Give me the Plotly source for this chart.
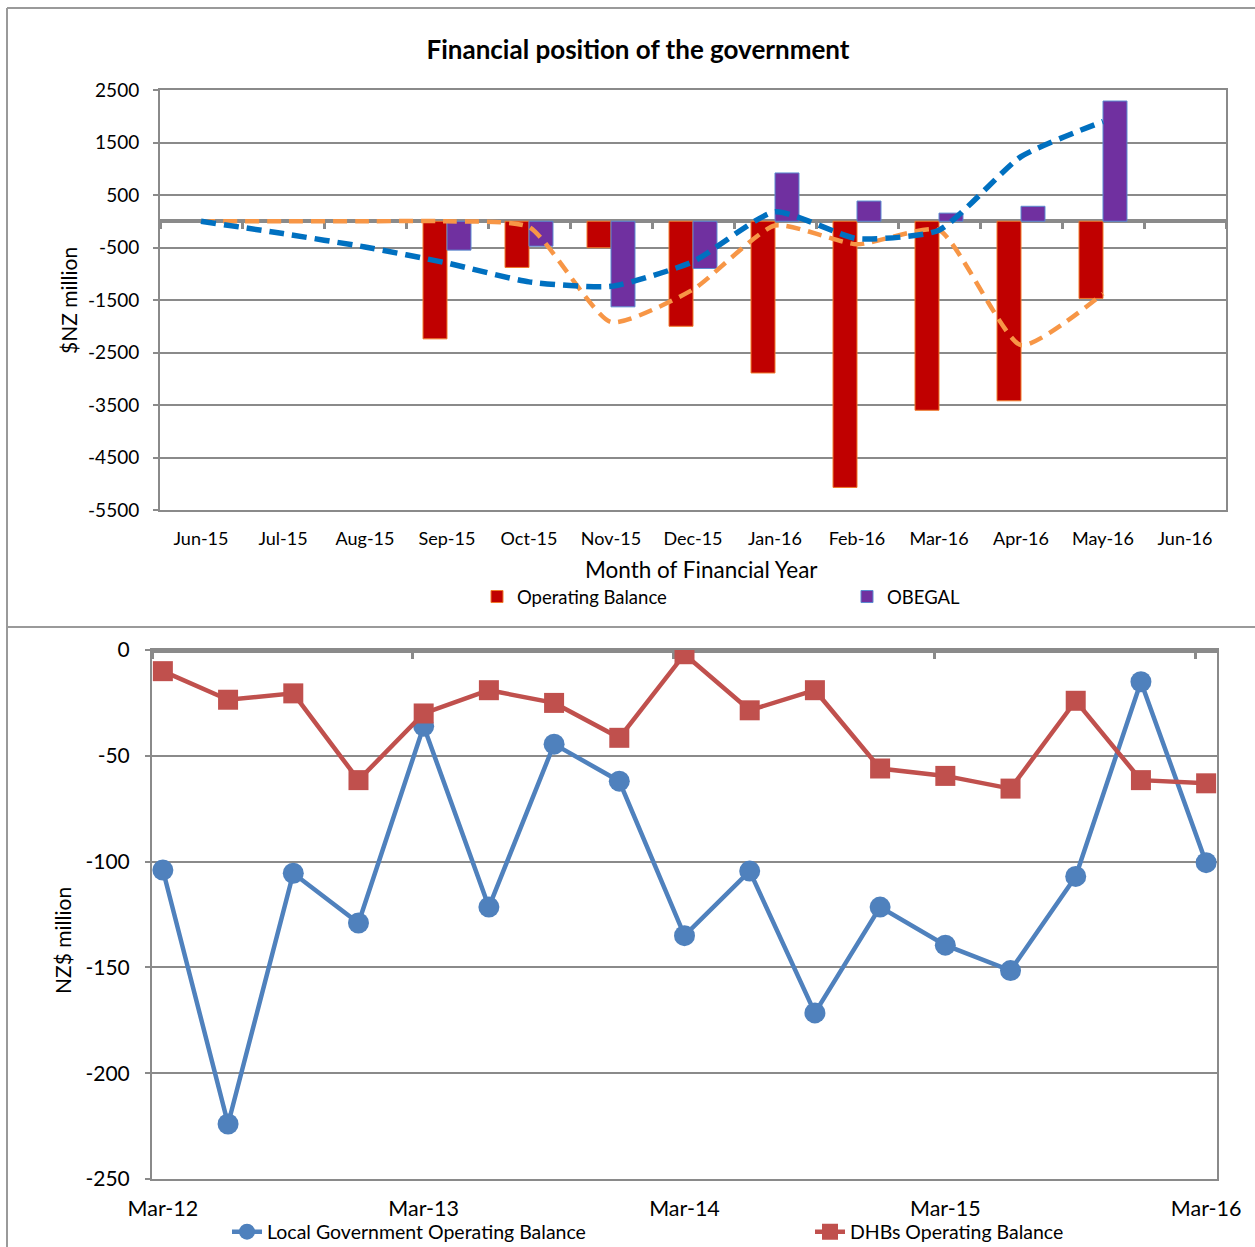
import plotly.graph_objects as go

W, H = 1255, 1247

# ---- Financial position of the government (monthly, $NZ million) ----
months = ["Jun-15", "Jul-15", "Aug-15", "Sep-15", "Oct-15", "Nov-15", "Dec-15",
          "Jan-16", "Feb-16", "Mar-16", "Apr-16", "May-16", "Jun-16"]
operating_balance = [None, None, None, -2240, -880, -505, -2000, -2890, -5070, -3600, -3420, -1470, None]
obegal = [None, None, None, -550, -475, -1630, -900, 920, 385, 155, 285, 2290, None]
operating_balance_forecast = [0, 0, 0, 0, -110, -1920, -1300, -80, -440, -170, -2360, -1380, None]
obegal_forecast = [0, -235, -490, -795, -1155, -1240, -770, 180, -330, -170, 1230, 1900, None]
top_y_ticks = [2500, 1500, 500, -500, -1500, -2500, -3500, -4500, -5500]

# ---- Local government and DHB operating balances (quarterly, NZ$ million) ----
quarters = ["Mar-12", "Jun-12", "Sep-12", "Dec-12", "Mar-13", "Jun-13", "Sep-13", "Dec-13",
            "Mar-14", "Jun-14", "Sep-14", "Dec-14", "Mar-15", "Jun-15", "Sep-15", "Dec-15", "Mar-16"]
local_gov_balance = [-104, -224, -105.5, -129, -36, -121.5, -44.5, -62, -135, -104.5,
                     -171.5, -121.5, -139.5, -151.5, -107, -15, -100.5]
dhb_balance = [-10, -23.5, -20.5, -61.5, -30, -19, -25, -41.5, -2, -28.5,
               -19, -56, -59.5, -65.5, -24, -61.5, -63]
quarter_tick_labels = ["Mar-12", "Mar-13", "Mar-14", "Mar-15", "Mar-16"]
bottom_y_ticks = [0, -50, -100, -150, -200, -250]

FONT = "Lato"
GRID = "#8a8a8a"


def px(x):
    return x / W


def py(y):
    return 1 - y / H


# plot-area domains (figure fractions; margins are zero)
top_x = [px(160), px(1226)]
top_y = [py(510), py(90)]
bot_x = [px(152), px(1217)]
bot_y = [py(1179), py(650)]

top_range = [min(top_y_ticks), max(top_y_ticks)]
bot_range = [min(bottom_y_ticks), max(bottom_y_ticks)]
q_pad = 1 / 6
q_range = [-q_pad, len(quarters) - 1 + q_pad]

fig = go.Figure()

# monthly bars
fig.add_trace(go.Bar(
    x=months, y=operating_balance, name="Operating Balance",
    marker=dict(color="#C00000", line=dict(color="#F07A2A", width=1)),
    xaxis="x", yaxis="y", legend="legend",
))
fig.add_trace(go.Bar(
    x=months, y=obegal, name="OBEGAL",
    marker=dict(color="#7030A0", line=dict(color="#5B8BD0", width=1)),
    xaxis="x", yaxis="y", legend="legend2",
))
# dashed forecast lines
fig.add_trace(go.Scatter(
    x=months, y=operating_balance_forecast, mode="lines", name="Operating Balance forecast",
    line=dict(color="#F79646", width=4.5, dash="14px,8px", shape="spline", smoothing=0.55),
    xaxis="x", yaxis="y", showlegend=False,
))
fig.add_trace(go.Scatter(
    x=months, y=obegal_forecast, mode="lines", name="OBEGAL forecast",
    line=dict(color="#0070C0", width=5.5, dash="15px,8px", shape="spline", smoothing=0.55),
    xaxis="x", yaxis="y", showlegend=False,
))

# quarterly lines
fig.add_trace(go.Scatter(
    x=quarters, y=local_gov_balance, mode="lines+markers",
    name="Local Government Operating Balance",
    line=dict(color="#4F81BD", width=4.5),
    marker=dict(symbol="circle", size=21, color="#4F81BD"),
    xaxis="x2", yaxis="y2", legend="legend3",
))
fig.add_trace(go.Scatter(
    x=quarters, y=dhb_balance, mode="lines+markers",
    name="DHBs Operating Balance",
    line=dict(color="#C0504D", width=4.5),
    marker=dict(symbol="square", size=20, color="#C0504D"),
    xaxis="x2", yaxis="y2", legend="legend4",
))

# carriers for the zero-line axes
fig.add_trace(go.Scatter(x=[None], y=[None], xaxis="x3", yaxis="y", showlegend=False, hoverinfo="skip"))
fig.add_trace(go.Scatter(x=[None], y=[None], xaxis="x4", yaxis="y2", showlegend=False, hoverinfo="skip"))

# position of the value 0 on the top chart
zero_frac = top_y[0] + (0 - top_range[0]) / (top_range[1] - top_range[0]) * (top_y[1] - top_y[0])


def one_item_legend(text_left, y_mid, size):
    return dict(orientation="h", x=px(text_left - 41), y=py(y_mid), xanchor="left",
                yanchor="middle", font=dict(size=size), bgcolor="rgba(0,0,0,0)",
                borderwidth=0)


fig.update_layout(
    width=W, height=H,
    margin=dict(l=0, r=0, t=0, b=0, autoexpand=False),
    paper_bgcolor="white", plot_bgcolor="white",
    font=dict(family=FONT, color="black"),
    barmode="group", bargap=0.415, bargroupgap=0,
    title=dict(text="<b>Financial position of the government</b>",
               x=px(638), y=py(50), xanchor="center", yanchor="middle",
               font=dict(family=FONT, size=26, color="black")),
    xaxis=dict(
        domain=top_x, anchor="y", type="category", categoryarray=months,
        range=[-0.5, len(months) - 0.5], automargin=False,
        showgrid=False, showline=True, mirror=True, linecolor=GRID, linewidth=2,
        ticks="", tickfont=dict(size=18), ticklabelstandoff=11,
    ),
    yaxis=dict(
        domain=top_y, anchor="x", range=top_range, automargin=False,
        tickmode="array", tickvals=top_y_ticks, ticktext=[str(v) for v in top_y_ticks],
        showgrid=True, gridcolor=GRID, gridwidth=2, zeroline=False,
        showline=True, mirror=True, linecolor=GRID, linewidth=2,
        ticks="outside", ticklen=5, tickcolor=GRID, tickwidth=2,
        tickfont=dict(size=19), ticklabelstandoff=10,
    ),
    xaxis3=dict(
        overlaying="x", anchor="free", position=zero_frac, automargin=False,
        range=[-0.5, len(months) - 0.5], tick0=-0.5, dtick=1, layer="below traces",
        showgrid=False, zeroline=False, showticklabels=False,
        showline=True, linecolor=GRID, linewidth=4,
        ticks="outside", ticklen=6, tickwidth=3, tickcolor=GRID,
    ),
    xaxis2=dict(
        domain=bot_x, anchor="y2", type="category", categoryarray=quarters,
        range=q_range, tickmode="array", tickvals=quarter_tick_labels, automargin=False,
        showgrid=False, showline=True, mirror=True, linecolor=GRID, linewidth=2,
        ticks="", tickfont=dict(size=21.5), ticklabelstandoff=9,
    ),
    yaxis2=dict(
        domain=bot_y, anchor="x2", range=bot_range, automargin=False,
        tickmode="array", tickvals=bottom_y_ticks, ticktext=[str(v) for v in bottom_y_ticks],
        showgrid=True, gridcolor=GRID, gridwidth=2, zeroline=False,
        showline=True, mirror=True, linecolor=GRID, linewidth=2,
        ticks="outside", ticklen=5, tickcolor=GRID, tickwidth=2,
        tickfont=dict(size=21), ticklabelstandoff=11,
    ),
    xaxis4=dict(
        overlaying="x2", anchor="free", position=bot_y[1], automargin=False,
        range=q_range, tick0=-q_pad, dtick=4, layer="below traces",
        showgrid=False, zeroline=False, showticklabels=False,
        showline=True, linecolor=GRID, linewidth=5,
        ticks="outside", ticklen=6, tickwidth=3, tickcolor=GRID,
    ),
    legend=one_item_legend(518, 597, 18.5),
    legend2=one_item_legend(888, 597, 18.5),
    legend3=one_item_legend(268, 1232, 19.5),
    legend4=one_item_legend(851, 1232, 19.5),
    annotations=[
        dict(text="Month of Financial Year", x=px(701), y=py(569), xref="paper", yref="paper",
             showarrow=False, font=dict(size=22.5), xanchor="center", yanchor="middle"),
        dict(text="$NZ million", x=px(68), y=py(301), xref="paper", yref="paper",
             showarrow=False, textangle=-90, font=dict(size=21), xanchor="center", yanchor="middle"),
        dict(text="NZ$ million", x=px(62), y=py(941), xref="paper", yref="paper",
             showarrow=False, textangle=-90, font=dict(size=21), xanchor="center", yanchor="middle"),
    ],
    shapes=[
        # chart frames
        dict(type="line", xref="paper", yref="paper", x0=px(7), x1=1, y0=py(8), y1=py(8),
             line=dict(color="#9a9a9a", width=2)),
        dict(type="line", xref="paper", yref="paper", x0=px(7), x1=px(7), y0=py(8), y1=0,
             line=dict(color="#9a9a9a", width=2)),
        dict(type="line", xref="paper", yref="paper", x0=px(7), x1=1, y0=py(627), y1=py(627),
             line=dict(color="#9a9a9a", width=2)),
    ],
)

fig.write_html("out.html")
